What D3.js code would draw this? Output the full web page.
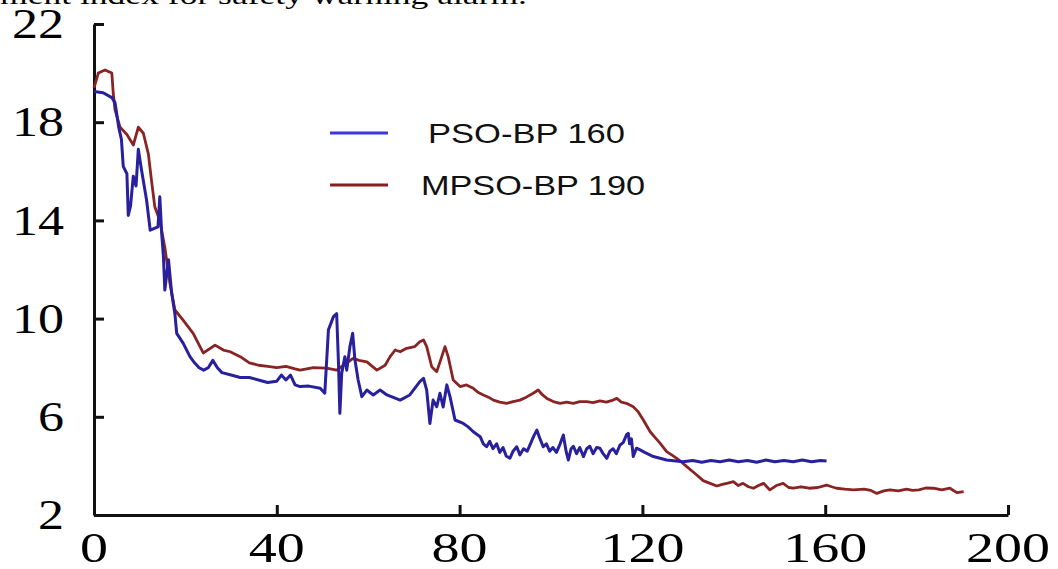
<!DOCTYPE html>
<html>
<head>
<meta charset="utf-8">
<script src="https://cdn.jsdelivr.net/npm/d3@7"></script>
<style>
  body { margin: 0; background: #fff; }
  svg { display: block; }
</style>
</head>
<body>
<div id="chart"></div>
<script>
// data
var psoIter = [0,2,3.9,4.6,5.4,6,6.4,7.2,7.5,8,8.6,9.2,9.7,10.4,11.5,12.3,14,14.4,14.8,15.2,15.5,16.3,17,17.7,18.1,19.5,21,22,23,24,25,26,27,28,30,32,34,36,38,40,41,42,43,44,45.1,47,49.5,50.5,51.3,52.4,53.1,53.5,53.8,54.2,54.9,55.3,56,56.6,57.1,57.8,58.6,59.7,61.1,62.6,64.1,67,69.1,71.3,72.1,72.8,73.5,74.2,75,75.7,76.4,77.2,77.9,79,80.8,81.8,83,84.5,85.2,85.9,86.6,87.3,88.1,88.8,89.5,90.2,91,91.7,92.5,93.2,94,94.8,95.5,96.2,96.9,97.6,98.3,99,99.7,100.4,101.2,102,102.7,103.3,103.8,104.4,104.9,105.6,106.3,107.1,107.8,108.5,109.2,110,110.7,111.4,112.2,112.9,113.6,114.3,115.1,115.8,116.5,116.9,117.2,117.6,118,118.7,119.5,120.5,122.4,125.3,128.9,131,133,135,137,139,141,143,145,147,149,151,153,155,157,159,160.3];
var psoIndex = [19.25,19.2,19.0,18.8,17.8,17.3,16.2,15.9,14.2,14.6,15.8,15.4,16.9,16.05,14.83,13.6,13.74,14.96,13.5,12.5,11.16,12.4,11.04,10.2,9.4,9.0,8.45,8.2,8.0,7.9,8.0,8.3,8.0,7.8,7.7,7.6,7.6,7.5,7.4,7.45,7.7,7.5,7.7,7.3,7.23,7.25,7.16,6.96,9.54,10.08,10.2,8.18,6.14,7.77,8.45,7.9,8.86,9.4,8.31,7.5,6.82,7.09,6.89,7.09,6.89,6.68,6.89,7.43,7.57,7.09,5.73,6.68,6.41,6.96,6.4,7.3,6.82,5.87,5.73,5.6,5.39,5.19,4.9,4.78,5.0,4.7,4.9,4.55,4.75,4.4,4.31,4.6,4.78,4.45,4.7,4.6,4.9,5.2,5.46,5.1,4.78,4.9,4.6,4.75,4.55,4.9,5.26,4.6,4.24,4.7,4.8,4.5,4.75,4.38,4.7,4.8,4.5,4.75,4.72,4.5,4.31,4.6,4.7,4.5,4.85,4.95,5.26,5.33,4.9,5.1,4.38,4.72,4.65,4.55,4.38,4.24,4.17,4.22,4.15,4.22,4.17,4.24,4.17,4.22,4.15,4.24,4.17,4.22,4.17,4.24,4.17,4.22,4.2];

var mpsoIter = [0,0.95,2.4,3.9,4.2,4.6,5.7,7.2,8.6,9.7,10.8,11.9,12.6,13.3,14.4,15.5,16.6,17.7,19.5,21.7,23.9,26.5,28.3,29.8,32,34,36,38,40,42,44,45.1,48,50.9,53.1,54.6,56.7,58,59.7,61.9,63.7,64.8,65.9,67,68.4,70.2,71.3,72.1,72.8,73.9,75,76.1,76.8,77.5,78.6,80.1,81.5,83,84,85.2,86.3,87.4,88.8,90.3,91.7,93.2,94.6,96.1,97.2,98.1,99.1,100.5,102,103.4,104.9,106.3,107.8,109.2,110.7,112.1,113.6,114.4,115.4,116.5,118,119.1,120.2,121.7,122.8,123.9,125.3,126.4,127.5,128.6,129.7,131.9,133.3,134.8,136.3,137.5,138.7,139.9,141,142,143.2,144.3,145.4,146.5,147.9,149.3,150.8,152,153,154.7,156.5,158.4,160.3,161.4,162.5,164.3,166.2,168.5,170,171.3,172.8,174.2,176,177.8,179.1,180.5,182,183.7,185.5,187.3,188.8,190.3];
var mpsoIndex = [19.4,20.0,20.13,20.0,19.2,18.5,17.8,17.5,17.07,17.8,17.55,16.7,15.6,14.56,14.0,12.9,11.45,10.35,9.94,9.4,8.6,8.92,8.72,8.65,8.45,8.2,8.1,8.05,8.0,8.05,7.95,7.9,8.0,7.98,7.9,8.1,8.38,8.3,8.24,7.9,8.1,8.45,8.72,8.65,8.79,8.86,9.06,9.13,8.86,8.04,7.84,8.45,8.86,8.45,7.5,7.23,7.3,7.16,7.0,6.89,6.8,6.68,6.6,6.55,6.62,6.68,6.8,6.96,7.09,6.9,6.75,6.62,6.55,6.6,6.55,6.62,6.62,6.58,6.65,6.6,6.68,6.75,6.6,6.55,6.41,6.2,5.87,5.39,5.15,4.92,4.58,4.45,4.31,4.15,3.97,3.63,3.4,3.29,3.18,3.25,3.3,3.36,3.2,3.29,3.15,3.09,3.2,3.29,3.02,3.2,3.29,3.12,3.09,3.15,3.09,3.12,3.22,3.15,3.09,3.05,3.02,3.05,3.0,2.88,2.98,3.02,2.98,3.05,3.0,3.02,3.1,3.09,3.02,3.09,2.91,2.95];

var xTicks = [0, 40, 80, 120, 160, 200];
var yTicks = [2, 6, 10, 14, 18, 22];
var seriesNames = ["PSO-BP 160", "MPSO-BP 190"];

var W = 1058, H = 569;
var svg = d3.select("#chart").append("svg")
    .attr("width", W)
    .attr("height", H);

var x = d3.scaleLinear().domain([0, 200]).range([94, 1008]);
var y = d3.scaleLinear().domain([2, 22]).range([515, 24]);

// cut-off caption line from the page above the figure
svg.append("text")
    .attr("x", 0)
    .attr("y", 4)
    .attr("textLength", 527)
    .attr("lengthAdjust", "spacingAndGlyphs")
    .style("font-family", "'Liberation Serif', serif")
    .style("font-size", "26px")
    .text("ment index for safety warning alarm.");

// axes (ticks pointing inward)
svg.append("g")
    .attr("transform", "translate(" + x(0) + ",0)")
    .call(d3.axisLeft(y).tickValues(yTicks).tickSize(-10).tickSizeOuter(0).tickFormat(""));
svg.append("g")
    .attr("transform", "translate(0," + y(2) + ")")
    .call(d3.axisBottom(x).tickValues(xTicks).tickSize(-10).tickSizeOuter(0).tickFormat(""));
svg.selectAll(".domain, .tick line")
    .attr("stroke", "#111")
    .attr("stroke-width", 3);

// tick labels
svg.selectAll(".ylab")
  .data(yTicks)
  .enter()
  .append("text")
    .attr("x", 64)
    .attr("y", function(d) { return y(d); })
    .attr("dy", "0.34em")
    .attr("text-anchor", "end")
    .attr("textLength", function(d) { return String(d).length * 26; })
    .attr("lengthAdjust", "spacingAndGlyphs")
    .style("font-family", "'Liberation Serif', serif")
    .style("font-size", "42px")
    .text(function(d) { return d; });

svg.selectAll(".xlab")
  .data(xTicks)
  .enter()
  .append("text")
    .attr("x", function(d) { return x(d); })
    .attr("y", 562)
    .attr("text-anchor", "middle")
    .attr("textLength", function(d) { return String(d).length * 28; })
    .attr("lengthAdjust", "spacingAndGlyphs")
    .style("font-family", "'Liberation Serif', serif")
    .style("font-size", "43px")
    .text(function(d) { return d; });

// lines
var line = d3.line()
    .x(function(d) { return x(d[0]); })
    .y(function(d) { return y(d[1]); });

var mpso = d3.zip(mpsoIter, mpsoIndex);
var pso = d3.zip(psoIter, psoIndex);

svg.append("path")
    .datum(mpso)
    .attr("d", line)
    .attr("fill", "none")
    .attr("stroke", "#8a2424")
    .attr("stroke-width", 2.8)
    .attr("stroke-linejoin", "round");

svg.append("path")
    .datum(pso)
    .attr("d", line)
    .attr("fill", "none")
    .attr("stroke", "#28209c")
    .attr("stroke-width", 3)
    .attr("stroke-linejoin", "round");

// legend
var legendY = [133, 185];
var legendColors = ["#3a36e0", "#8a1e1e"];
var legendTextX = [428, 421];
var legendLen = [197, 224];
seriesNames.forEach(function(name, i) {
  svg.append("line")
      .attr("x1", 330).attr("x2", 388)
      .attr("y1", legendY[i]).attr("y2", legendY[i])
      .attr("stroke", legendColors[i])
      .attr("stroke-width", 3);
  svg.append("text")
      .attr("x", legendTextX[i])
      .attr("y", legendY[i])
      .attr("dy", "0.36em")
      .attr("textLength", legendLen[i])
      .attr("lengthAdjust", "spacingAndGlyphs")
      .style("font-family", "'Liberation Sans', Arial, sans-serif")
      .style("font-size", "28px")
      .style("fill", "#111")
      .text(name);
});
</script>
</body>
</html>
